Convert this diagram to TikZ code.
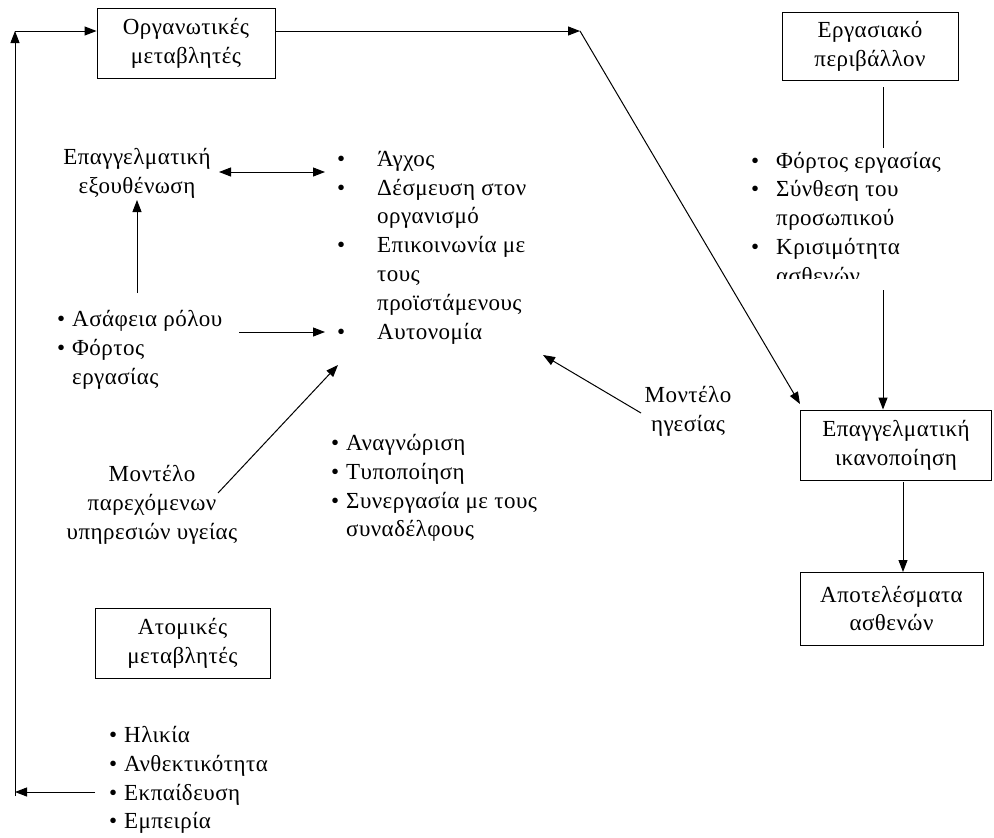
\documentclass[tikz,border=0pt]{standalone}
\usepackage{fontspec}
\setmainfont[LetterSpace=2]{Liberation Serif}
\usetikzlibrary{arrows.meta}
\newcommand{\blt}{\textbullet}
\newcommand{\bl}[1]{\begin{tabular}{@{}p{#1}@{}l@{}}}
\tikzset{
  box/.style={draw, line width=0.9pt, align=center, inner sep=0pt},
  lbl/.style={align=center, inner sep=0pt},
  lst/.style={anchor=west, inner sep=0pt},
  arr/.style={-{Triangle[length=12pt,width=9pt]}, line width=1pt},
  darr/.style={{Triangle[length=12pt,width=9pt]}-{Triangle[length=12pt,width=9pt]}, line width=1pt},
  ln/.style={line width=1pt}
}
\begin{document}
\begin{tikzpicture}[x=1pt,y=-1pt,font=\fontsize{23}{28.8}\selectfont]
\useasboundingbox (0,0) rectangle (994,838);
% boxes
\node[box, minimum width=178pt, minimum height=70pt] (org) at (186,43) {Οργανωτικές\\μεταβλητές};
\node[box, minimum width=176pt, minimum height=68pt] (erg) at (870,46) {Εργασιακό\\περιβάλλον};
\node[box, minimum width=191pt, minimum height=70pt] (ikan) at (896,445) {Επαγγελματική\\ικανοποίηση};
\node[box, minimum width=183pt, minimum height=73pt] (apot) at (891.5,608.5) {Αποτελέσματα\\ασθενών};
\node[box, minimum width=175pt, minimum height=70pt] (atom) at (182.5,643) {Ατομικές\\μεταβλητές};
% labels
\node[lbl] (burn) at (137,173) {Επαγγελματική\\εξουθένωση};
\node[lbl] (mpar) at (152,505) {Μοντέλο\\παρεχόμενων\\υπηρεσιών υγείας};
\node[lbl] (mhg) at (688,411) {Μοντέλο\\ηγεσίας};
% lists
\node[lst] (mid) at (337,247) {\bl{40pt}\blt & Άγχος\\ \blt & Δέσμευση στον\\ & οργανισμό\\ \blt & Επικοινωνία με\\ & τους\\ & προϊστάμενους\\ \blt & Αυτονομία\end{tabular}};
\node[lst] (left) at (57,350) {\bl{15pt}\blt & Ασάφεια ρόλου\\ \blt & Φόρτος\\ & εργασίας\end{tabular}};
\node[lst] (rec) at (331,488) {\bl{15pt}\blt & Αναγνώριση\\ \blt & Τυποποίηση\\ \blt & Συνεργασία με τους\\ & συναδέλφους\end{tabular}};
\node[lst] (ind) at (109,780) {\bl{15pt}\blt & Ηλικία\\ \blt & Ανθεκτικότητα\\ \blt & Εκπαίδευση\\ \blt & Εμπειρία\end{tabular}};
\begin{scope}
\clip (700,140) rectangle (994,278);
\node[lst] (work) at (751,220) {\bl{25pt}\blt & Φόρτος εργασίας\\ \blt & Σύνθεση του\\ & προσωπικού\\ \blt & Κρισιμότητα\\ & ασθενών\end{tabular}};
\end{scope}
% coordinates
\coordinate (lt) at (15,31);
\coordinate (lb) at (15,796);
\coordinate (tr) at (580,31);
\coordinate (dtip) at (800,404);
\coordinate (eg1) at (883,87);
\coordinate (eg2) at (883,148);
\coordinate (wk) at (883,290);
\coordinate (sa) at (903,482);
\coordinate (ea) at (903,572);
\coordinate (b1) at (219,172);
\coordinate (b2) at (325,172);
\coordinate (bu1) at (137,293);
\coordinate (bu2) at (137,200);
\coordinate (a1) at (239,332);
\coordinate (a2) at (325,332);
\coordinate (p1) at (218,493);
\coordinate (p2) at (338,365);
\coordinate (h1) at (641,413);
\coordinate (h2) at (543,355);
\coordinate (i1) at (95,792);
\coordinate (i2) at (15,792);
% connectors
\draw[arr] (lb) -- (lt);
\draw[arr] (lt) -- (lt -| org.west);
\draw[arr] (org.east |- lt) -- (tr);
\draw[arr] (tr) -- (dtip);
\draw[ln] (eg1) -- (eg2);
\draw[arr] (wk) -- (wk |- ikan.north);
\draw[arr] (sa) -- (ea);
\draw[darr] (b1) -- (b2);
\draw[arr] (bu1) -- (bu2);
\draw[arr] (a1) -- (a2);
\draw[arr] (p1) -- (p2);
\draw[arr] (h1) -- (h2);
\draw[arr] (i1) -- (i2);
\end{tikzpicture}
\end{document}
